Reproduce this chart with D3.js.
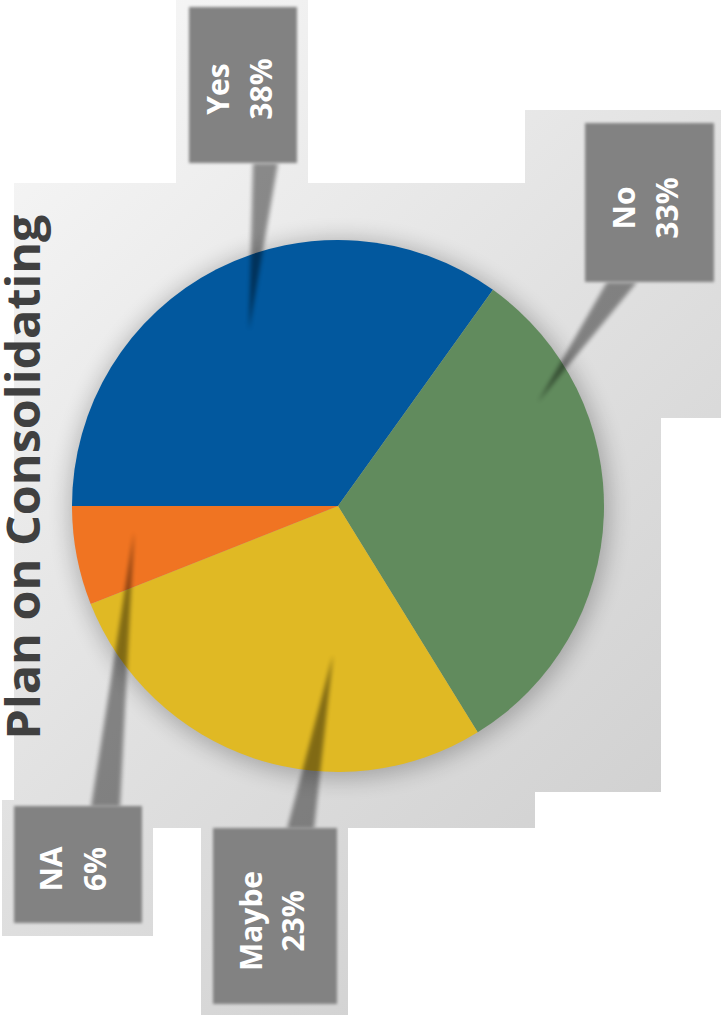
<!DOCTYPE html>
<html>
<head>
<meta charset="utf-8">
<script src="https://cdn.jsdelivr.net/npm/d3@7"></script>
<style>
  html, body { margin: 0; padding: 0; background: #ffffff; }
  svg { display: block; }
</style>
</head>
<body>
<svg id="chart" width="721" height="1026"></svg>
<script>
// ---- data ----
const title = "Plan on Consolidating";
const categories = ["Yes", "No", "Maybe", "NA"];
const values = [34.9, 31.3, 27.8, 6.0];          // slice sizes as drawn
const percentLabels = ["38%", "33%", "23%", "6%"]; // label texts as printed
const colors = ["#02589E", "#618B5D", "#E0B924", "#F07422"];

// ---- layout (positions / sizes) ----
const W = 721, H = 1026;
const center = [338, 506], radius = 266;
const panelRects = [
  [176, 0, 132, 184], [14, 183, 521, 645], [525, 110, 196, 308],
  [525, 417, 136, 375], [2, 800, 151, 136], [201, 827, 147, 188]
];
const boxes = [
  { x: 189, y: 7,   w: 108, h: 156, cx: 243, cy: 89,  l1: -14, l2: 29, base: [[253,163],[278,163]], tip: [249, 330] },
  { x: 585, y: 123, w: 129, h: 159, cx: 649, cy: 208, l1: -14, l2: 29, base: [[607,282],[637,282]], tip: [538, 402] },
  { x: 213, y: 828, w: 124, h: 176, cx: 275, cy: 921, l1: -13, l2: 29, base: [[287,829],[314,829]], tip: [333, 655] },
  { x: 14,  y: 806, w: 128, h: 117, cx: 78,  cy: 869, l1: -16, l2: 28, base: [[91,807],[120,807]],  tip: [134, 532] }
];

const svg = d3.select("#chart");
const defs = svg.append("defs");

const grad = defs.append("linearGradient").attr("id", "panelGrad")
  .attr("gradientUnits", "userSpaceOnUse")
  .attr("x1", 0).attr("y1", 150).attr("x2", 721).attr("y2", 900);
grad.append("stop").attr("offset", "0").attr("stop-color", "#f5f5f5");
grad.append("stop").attr("offset", "0.5").attr("stop-color", "#e0e0e0");
grad.append("stop").attr("offset", "1").attr("stop-color", "#cdcdcd");

const clip = defs.append("clipPath").attr("id", "panelClip");
panelRects.forEach(r => clip.append("rect").attr("x", r[0]).attr("y", r[1]).attr("width", r[2]).attr("height", r[3]));

const fShadow = defs.append("filter").attr("id", "shadowBlur")
  .attr("x", "-30%").attr("y", "-30%").attr("width", "160%").attr("height", "160%");
fShadow.append("feGaussianBlur").attr("stdDeviation", 11);

const fSoft = defs.append("filter").attr("id", "soft")
  .attr("x", "-20%").attr("y", "-20%").attr("width", "140%").attr("height", "140%");
fSoft.append("feGaussianBlur").attr("stdDeviation", 1.6);

const fSoft2 = defs.append("filter").attr("id", "soft2")
  .attr("x", "-50%").attr("y", "-10%").attr("width", "200%").attr("height", "120%");
fSoft2.append("feGaussianBlur").attr("stdDeviation", 2.2);

// background panel
const bg = svg.append("g").attr("clip-path", "url(#panelClip)");
bg.append("rect").attr("x", 0).attr("y", 0).attr("width", W).attr("height", H).attr("fill", "url(#panelGrad)");
bg.append("circle").attr("cx", center[0] + 2).attr("cy", center[1] + 3).attr("r", radius + 4)
  .attr("fill", "#000").attr("opacity", 0.24).attr("filter", "url(#shadowBlur)");

// pie
const pie = d3.pie().sort(null).value(d => d)
  .startAngle(-Math.PI / 2).endAngle(3 * Math.PI / 2);
const arc = d3.arc().innerRadius(0).outerRadius(radius);
const color = d3.scaleOrdinal().domain(categories).range(colors);

svg.append("g").attr("transform", `translate(${center[0]},${center[1]})`)
  .selectAll("path").data(pie(values)).join("path")
  .attr("d", arc)
  .attr("fill", (d, i) => color(categories[i]));

// leader wedges
svg.append("g").selectAll("path").data(boxes).join("path")
  .attr("d", b => `M${b.base[0][0]},${b.base[0][1]}L${b.tip[0]},${b.tip[1]}L${b.base[1][0]},${b.base[1][1]}Z`)
  .attr("fill", "#000").attr("opacity", 0.42).attr("filter", "url(#soft2)");

// callout boxes
svg.append("g").selectAll("rect").data(boxes).join("rect")
  .attr("x", b => b.x).attr("y", b => b.y).attr("width", b => b.w).attr("height", b => b.h)
  .attr("fill", "#828282").attr("filter", "url(#soft)");

// callout labels
const lab = svg.append("g").selectAll("g").data(boxes).join("g")
  .attr("transform", b => `translate(${b.cx},${b.cy}) rotate(-90)`)
  .attr("font-family", "'Open Sans', sans-serif").attr("font-weight", 700)
  .attr("font-size", 30).attr("fill", "#ffffff").attr("text-anchor", "middle");
lab.append("text").attr("x", 0).attr("y", b => b.l1).text((b, i) => categories[i]);
lab.append("text").attr("x", 0).attr("y", b => b.l2).text((b, i) => percentLabels[i]);

// title
svg.append("text")
  .attr("transform", "translate(40,477) rotate(-90)")
  .attr("text-anchor", "middle")
  .attr("font-family", "'Open Sans', sans-serif").attr("font-weight", 700)
  .attr("font-size", 47).attr("fill", "#404040")
  .attr("textLength", 525).attr("lengthAdjust", "spacingAndGlyphs")
  .text(title);
</script>
</body>
</html>
